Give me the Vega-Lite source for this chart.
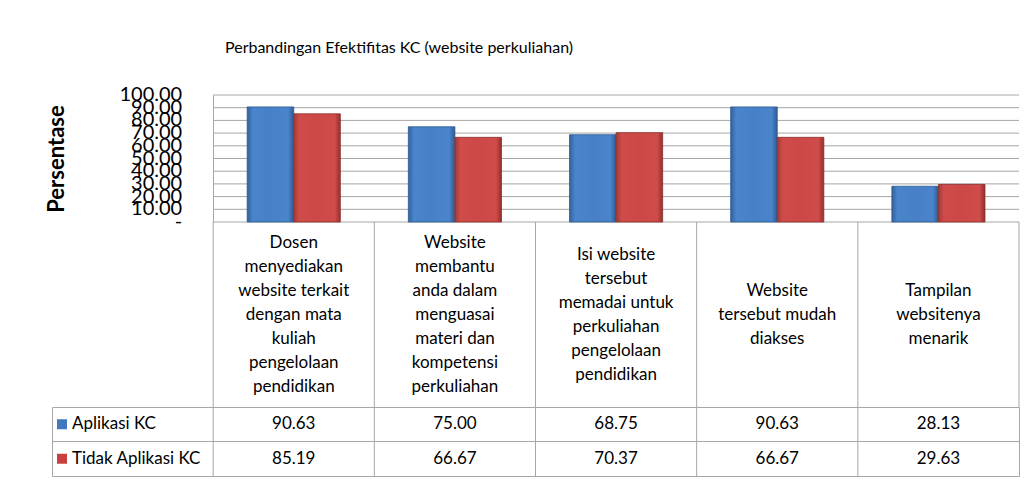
{
  "$schema": "https://vega.github.io/schema/vega-lite/v6.json",
  "background": "white",
  "autosize": {"type": "pad"},
  "padding": {"left": 45, "top": 40, "right": 0, "bottom": 0},
  "spacing": 0,
  "bounds": "flush",
  "config": {"font": "Lato", "view": {"stroke": null}, "concat": {"spacing": 0}},
  "title": {"text": "Perbandingan Efektifitas KC (website perkuliahan)", "anchor": "start", "fontSize": 16, "fontWeight": "normal", "color": "#000000", "font": "Lato", "dx": 180, "offset": 29},
  "datasets": {
    "bars": [
      {"cat": "c1", "series": "Aplikasi KC", "value": 90.63},
      {"cat": "c2", "series": "Aplikasi KC", "value": 75.00},
      {"cat": "c3", "series": "Aplikasi KC", "value": 68.75},
      {"cat": "c4", "series": "Aplikasi KC", "value": 90.63},
      {"cat": "c5", "series": "Aplikasi KC", "value": 28.13},
      {"cat": "c1", "series": "Tidak Aplikasi KC", "value": 85.19},
      {"cat": "c2", "series": "Tidak Aplikasi KC", "value": 66.67},
      {"cat": "c3", "series": "Tidak Aplikasi KC", "value": 70.37},
      {"cat": "c4", "series": "Tidak Aplikasi KC", "value": 66.67},
      {"cat": "c5", "series": "Tidak Aplikasi KC", "value": 29.63}
    ],
    "cats": [
      {"cat": "c1", "label": "Dosen|menyediakan|website terkait|dengan mata|kuliah|pengelolaan|pendidikan"},
      {"cat": "c2", "label": "Website|membantu|anda dalam|menguasai|materi dan|kompetensi|perkuliahan"},
      {"cat": "c3", "label": "Isi website|tersebut|memadai untuk|perkuliahan|pengelolaan|pendidikan"},
      {"cat": "c4", "label": "Website|tersebut mudah|diakses"},
      {"cat": "c5", "label": "Tampilan|websitenya|menarik"}
    ],
    "grid": [{"v": 0, "lab": "-"}, {"v": 10, "lab": "10.00"}, {"v": 20, "lab": "20.00"}, {"v": 30, "lab": "30.00"}, {"v": 40, "lab": "40.00"}, {"v": 50, "lab": "50.00"}, {"v": 60, "lab": "60.00"}, {"v": 70, "lab": "70.00"}, {"v": 80, "lab": "80.00"}, {"v": 90, "lab": "90.00"}, {"v": 100, "lab": "100.00"}],
    "series": [{"series": "Aplikasi KC"}, {"series": "Tidak Aplikasi KC"}],
    "one": [{"k": 1}]
  },
  "vconcat": [
    {
      "width": 967,
      "height": 127,
      "layer": [
        {
          "data": {"name": "grid"},
          "mark": {"type": "rule", "color": "#a6a6a6", "strokeWidth": 1},
          "encoding": {
            "y": {"field": "v", "type": "quantitative", "scale": {"domain": [0, 100], "nice": false},
              "axis": {"title": "Persentase", "values": [0, 100], "labels": false,
                "offset": -161, "ticks": false, "grid": false,
                "domainColor": "#a6a6a6",
                "titleFontSize": 22, "titleFontWeight": "bold", "titleColor": "#000000", "titleFont": "Lato", "titlePadding": 145}},
            "x": {"datum": "c1", "type": "nominal", "bandPosition": 0,
              "scale": {"domain": ["_", "c1", "c2", "c3", "c4", "c5"], "paddingInner": 0, "paddingOuter": 0}, "axis": null},
            "x2": {"datum": "c5", "bandPosition": 1}
          }
        },
        {
          "data": {"name": "bars"},
          "transform": [{"filter": "datum.series == 'Aplikasi KC'"}],
          "mark": {"type": "bar", "stroke": "#2d5a92", "strokeWidth": 0.8,
            "color": {"gradient": "linear", "x1": 0, "y1": 0, "x2": 1, "y2": 0,
              "stops": [{"offset": 0, "color": "#33619c"}, {"offset": 0.12, "color": "#4a84cb"}, {"offset": 0.5, "color": "#4780c6"}, {"offset": 0.88, "color": "#4a84cb"}, {"offset": 1, "color": "#2f5a90"}]}},
          "encoding": {
            "x": {"field": "cat", "type": "nominal", "axis": null},
            "xOffset": {"field": "series", "type": "nominal", "scale": {"domain": ["Aplikasi KC", "Tidak Aplikasi KC"], "paddingInner": 0, "paddingOuter": 0.73}},
            "y": {"field": "value", "type": "quantitative"}
          }
        },
        {
          "data": {"name": "bars"},
          "transform": [{"filter": "datum.series == 'Tidak Aplikasi KC'"}],
          "mark": {"type": "bar", "stroke": "#8c2e2c", "strokeWidth": 0.8,
            "color": {"gradient": "linear", "x1": 0, "y1": 0, "x2": 1, "y2": 0,
              "stops": [{"offset": 0, "color": "#a23a38"}, {"offset": 0.12, "color": "#d04c4a"}, {"offset": 0.5, "color": "#cc4846"}, {"offset": 0.88, "color": "#d04c4a"}, {"offset": 1, "color": "#932f2d"}]}},
          "encoding": {
            "x": {"field": "cat", "type": "nominal", "axis": null},
            "xOffset": {"field": "series", "type": "nominal"},
            "y": {"field": "value", "type": "quantitative"}
          }
        },
        {
          "data": {"name": "grid"},
          "mark": {"type": "text", "fontSize": 20, "align": "right", "baseline": "middle", "dx": -31, "color": "#000000", "font": "Lato"},
          "encoding": {
            "y": {"field": "v", "type": "quantitative"},
            "x": {"datum": "c1", "type": "nominal", "bandPosition": 0, "axis": null},
            "text": {"field": "lab", "type": "nominal"}
          }
        }
      ]
    },
    {
      "width": 967,
      "height": 185,
      "layer": [
        {
          "data": {"name": "cats"},
          "mark": {"type": "rule", "color": "#a6a6a6", "strokeWidth": 1},
          "encoding": {
            "x": {"field": "cat", "type": "nominal", "bandPosition": 0,
              "scale": {"domain": ["_", "c1", "c2", "c3", "c4", "c5"], "paddingInner": 0, "paddingOuter": 0}, "axis": null}
          }
        },
        {
          "data": {"name": "one"},
          "mark": {"type": "rule", "color": "#a6a6a6", "strokeWidth": 1},
          "encoding": {
            "x": {"datum": "c5", "type": "nominal", "bandPosition": 1}
          }
        },
        {
          "data": {"name": "cats"},
          "transform": [{"filter": "datum.cat == 'c1' || datum.cat == 'c2'"}],
          "mark": {"type": "text", "lineBreak": "|", "fontSize": 17, "lineHeight": 24, "baseline": "middle", "align": "center", "dy": -72, "color": "#000000", "font": "Lato"},
          "encoding": {
            "x": {"field": "cat", "type": "nominal"},
            "text": {"field": "label", "type": "nominal"}
          }
        },
        {
          "data": {"name": "cats"},
          "transform": [{"filter": "datum.cat == 'c3'"}],
          "mark": {"type": "text", "lineBreak": "|", "fontSize": 17, "lineHeight": 24, "baseline": "middle", "align": "center", "dy": -60, "color": "#000000", "font": "Lato"},
          "encoding": {
            "x": {"field": "cat", "type": "nominal"},
            "text": {"field": "label", "type": "nominal"}
          }
        },
        {
          "data": {"name": "cats"},
          "transform": [{"filter": "datum.cat == 'c4' || datum.cat == 'c5'"}],
          "mark": {"type": "text", "lineBreak": "|", "fontSize": 17, "lineHeight": 24, "baseline": "middle", "align": "center", "dy": -24, "color": "#000000", "font": "Lato"},
          "encoding": {
            "x": {"field": "cat", "type": "nominal"},
            "text": {"field": "label", "type": "nominal"}
          }
        }
      ]
    },
    {
      "width": 967,
      "height": 69,
      "view": {"stroke": "#a6a6a6", "strokeWidth": 1},
      "layer": [
        {
          "data": {"name": "cats"},
          "mark": {"type": "rule", "color": "#a6a6a6", "strokeWidth": 1},
          "encoding": {
            "x": {"field": "cat", "type": "nominal", "bandPosition": 0,
              "scale": {"domain": ["_", "c1", "c2", "c3", "c4", "c5"], "paddingInner": 0, "paddingOuter": 0}, "axis": null}
          }
        },
        {
          "data": {"name": "one"},
          "mark": {"type": "rule", "color": "#a6a6a6", "strokeWidth": 1},
          "encoding": {
            "y": {"datum": "Tidak Aplikasi KC", "type": "nominal", "bandPosition": 0,
              "scale": {"domain": ["Aplikasi KC", "Tidak Aplikasi KC"], "paddingInner": 0, "paddingOuter": 0}, "axis": null}
          }
        },
        {
          "data": {"name": "bars"},
          "mark": {"type": "text", "fontSize": 17, "baseline": "middle", "align": "center", "color": "#000000", "font": "Lato"},
          "encoding": {
            "x": {"field": "cat", "type": "nominal"},
            "y": {"field": "series", "type": "nominal"},
            "text": {"field": "value", "type": "quantitative", "format": ".2f"}
          }
        },
        {
          "data": {"name": "series"},
          "mark": {"type": "point", "shape": "square", "filled": true, "size": 100, "xOffset": 10, "opacity": 1},
          "encoding": {
            "x": {"datum": "_", "type": "nominal", "bandPosition": 0},
            "y": {"field": "series", "type": "nominal"},
            "color": {"field": "series", "type": "nominal", "scale": {"domain": ["Aplikasi KC", "Tidak Aplikasi KC"], "range": ["#4179c0", "#c9403f"]}, "legend": null}
          }
        },
        {
          "data": {"name": "series"},
          "mark": {"type": "text", "fontSize": 17, "baseline": "middle", "align": "left", "dx": 20, "color": "#000000", "font": "Lato"},
          "encoding": {
            "x": {"datum": "_", "type": "nominal", "bandPosition": 0},
            "y": {"field": "series", "type": "nominal"},
            "text": {"field": "series", "type": "nominal"}
          }
        }
      ]
    }
  ]
}
